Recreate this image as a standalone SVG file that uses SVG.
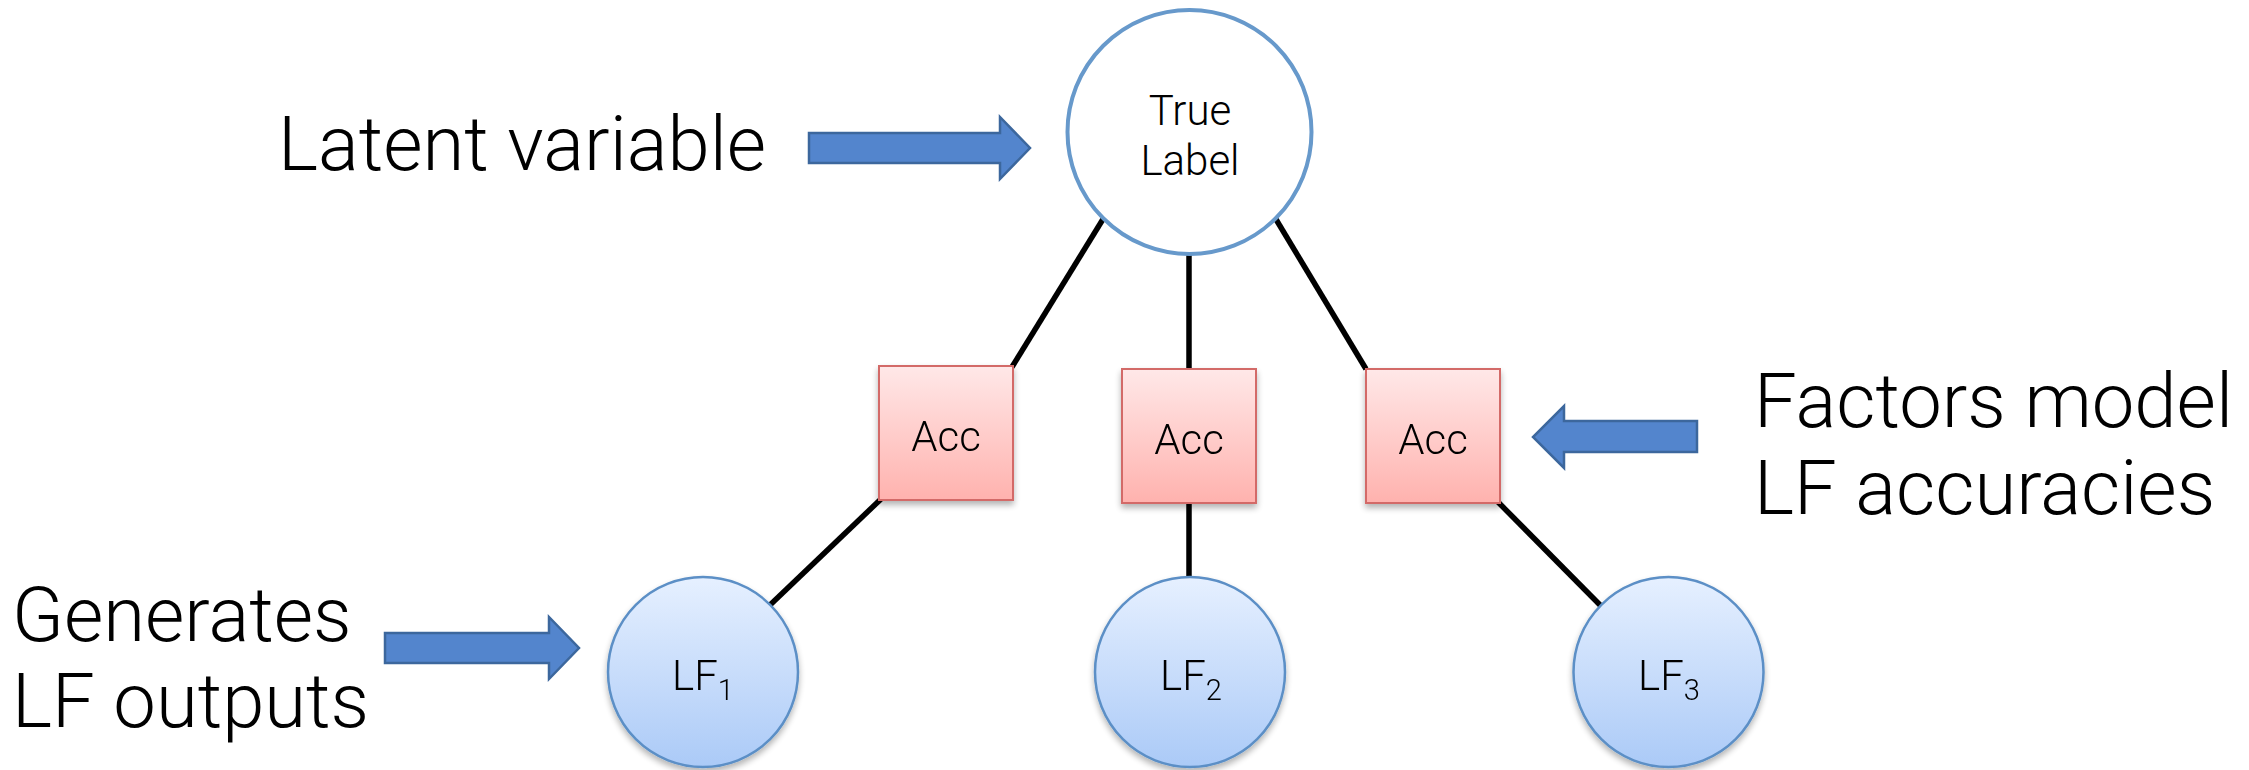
<svg xmlns="http://www.w3.org/2000/svg" width="2249" height="770" viewBox="0 0 2249 770">
  <defs>
    <linearGradient id="accFill" x1="0" y1="0" x2="0" y2="1">
      <stop offset="0" stop-color="#ffe8e8"/>
      <stop offset="1" stop-color="#ffb2ae"/>
    </linearGradient>
    <linearGradient id="lfFill" x1="0" y1="0" x2="0" y2="1">
      <stop offset="0" stop-color="#e6f0ff"/>
      <stop offset="1" stop-color="#abcaf7"/>
    </linearGradient>
    <filter id="shadow" x="-20%" y="-20%" width="140%" height="150%">
      <feGaussianBlur in="SourceAlpha" stdDeviation="3"/>
      <feOffset dx="0" dy="4" result="blur"/>
      <feComponentTransfer><feFuncA type="linear" slope="0.3"/></feComponentTransfer>
      <feMerge><feMergeNode/><feMergeNode in="SourceGraphic"/></feMerge>
    </filter>
  </defs>
  <style>
    .big { font-family: "Helvetica Neue", Roboto, "Liberation Sans", sans-serif; font-weight: 300; font-size: 76px; fill: #000; }
    .small { font-family: "Helvetica Neue", Roboto, "Liberation Sans", sans-serif; font-weight: 300; font-size: 42px; fill: #000; text-anchor: middle; }
    .sub { font-size: 29px; }
    .edge { stroke: #000; stroke-width: 5.5; fill: none; }
    .arrow { fill: #5385cd; stroke: #3c679d; stroke-width: 2.5; stroke-linejoin: miter; }
    .acc { fill: url(#accFill); stroke: #d36a67; stroke-width: 2; }
    .lf { fill: url(#lfFill); stroke: #5b8fc6; stroke-width: 2.5; }
    .latent { fill: #fff; stroke: #6799cb; stroke-width: 4; }
  </style>

  <rect width="2249" height="770" fill="#fff"/>

  <!-- connectors between the factor graph nodes -->
  <g id="connectors">
    <line class="edge" x1="1108" y1="211" x2="1012" y2="367"/>
    <line class="edge" x1="1189" y1="250" x2="1189" y2="369"/>
    <line class="edge" x1="1271" y1="211" x2="1366" y2="369"/>
    <line class="edge" x1="881" y1="499" x2="770" y2="605"/>
    <line class="edge" x1="1189" y1="503" x2="1189" y2="580"/>
    <line class="edge" x1="1498" y1="502" x2="1603" y2="608"/>
  </g>

  <!-- latent variable node -->
  <g id="true-label">
    <circle class="latent" cx="1189.5" cy="132" r="122"/>
    <text class="small" x="1190" y="125">True</text>
    <text class="small" x="1190" y="175">Label</text>
  </g>

  <!-- accuracy factors -->
  <g id="acc1" filter="url(#shadow)">
    <rect class="acc" x="879" y="366" width="134" height="134"/>
    <text class="small" x="946" y="451">Acc</text>
  </g>
  <g id="acc2" filter="url(#shadow)">
    <rect class="acc" x="1122" y="369" width="134" height="134"/>
    <text class="small" x="1189" y="454">Acc</text>
  </g>
  <g id="acc3" filter="url(#shadow)">
    <rect class="acc" x="1366" y="369" width="134" height="134"/>
    <text class="small" x="1433" y="454">Acc</text>
  </g>

  <!-- labeling function outputs -->
  <g id="lf1" filter="url(#shadow)">
    <circle class="lf" cx="703" cy="672" r="95"/>
    <text class="small" x="703" y="690">LF<tspan class="sub" dy="10">1</tspan></text>
  </g>
  <g id="lf2" filter="url(#shadow)">
    <circle class="lf" cx="1190" cy="672" r="95"/>
    <text class="small" x="1191" y="690">LF<tspan class="sub" dy="10">2</tspan></text>
  </g>
  <g id="lf3" filter="url(#shadow)">
    <circle class="lf" cx="1668.5" cy="672" r="95"/>
    <text class="small" x="1669" y="690">LF<tspan class="sub" dy="10">3</tspan></text>
  </g>

  <!-- annotations -->
  <g id="note-latent">
    <text class="big" x="278" y="170">Latent variable</text>
    <polygon class="arrow" points="809,133 1000,133 1000,117 1030,148 1000,179 1000,163 809,163"/>
  </g>
  <g id="note-factors">
    <text class="big" x="1754" y="427">Factors model</text>
    <text class="big" x="1754" y="514">LF accuracies</text>
    <polygon class="arrow" points="1697,421 1564,421 1564,406 1533,437 1564,468 1564,452 1697,452"/>
  </g>
  <g id="note-generates">
    <text class="big" x="12" y="641">Generates</text>
    <text class="big" x="12" y="727">LF outputs</text>
    <polygon class="arrow" points="385,633 549,633 549,617 579,648 549,679 549,663 385,663"/>
  </g>
</svg>
